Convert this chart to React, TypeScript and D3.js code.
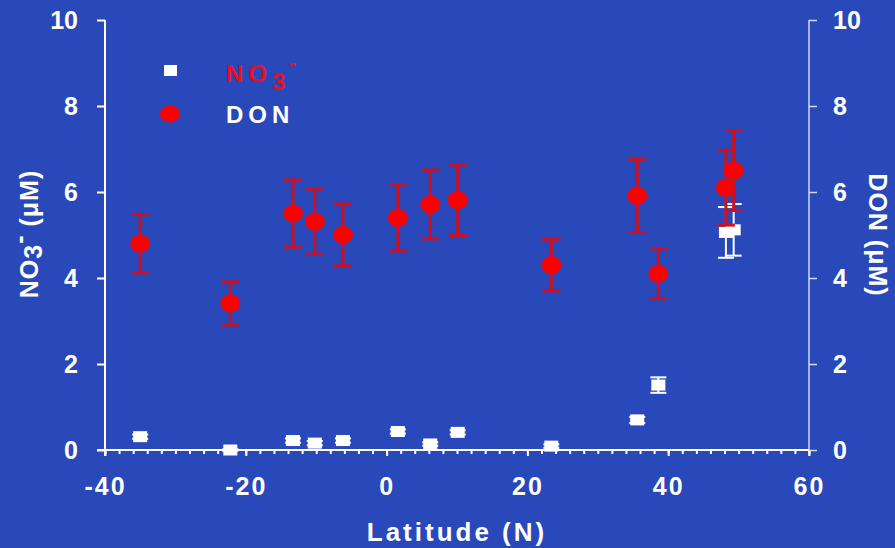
import React, { useEffect, useRef } from "react";
import * as d3 from "d3";

// station latitudes (N) and measured values
const latitudes = [-35, -22.2, -13.3, -10.2, -6.2, 1.6, 6.2, 10.1, 23.4, 35.6, 38.6, 48.2, 49.3];
const donValues = [4.8, 3.41, 5.5, 5.31, 5.0, 5.4, 5.71, 5.81, 4.3, 5.91, 4.1, 6.1, 6.5];
const donErrors = [0.68, 0.5, 0.78, 0.76, 0.72, 0.77, 0.8, 0.82, 0.6, 0.85, 0.58, 0.87, 0.93];
const no3Values = [0.31, 0.0, 0.22, 0.16, 0.22, 0.43, 0.14, 0.41, 0.09, 0.7, 1.51, 5.06, 5.12];
const no3Errors = [0.05, 0.02, 0.05, 0.05, 0.05, 0.05, 0.04, 0.05, 0.04, 0.07, 0.18, 0.59, 0.6];

const xTicks = [-40, -20, 0, 20, 40, 60];
const yTicks = [0, 2, 4, 6, 8, 10];

const W = 895;
const H = 548;
const BG = "#2948BA";
const FONT = "'Liberation Sans', Arial, sans-serif";

const App: React.FC = () => {
  const xMajorRef = useRef<SVGGElement>(null);
  const xMinorRef = useRef<SVGGElement>(null);
  const yLeftRef = useRef<SVGGElement>(null);
  const yRightRef = useRef<SVGGElement>(null);

  const x = d3.scaleLinear().domain([-40, 60]).range([105, 809]);
  const y = d3.scaleLinear().domain([0, 10]).range([450, 20]);

  useEffect(() => {
    // plain hyphen for negatives, like the original
    const fmt = (d: any) => String(d);
    const xMajor = d3.axisBottom(x).tickValues(xTicks).tickSize(6).tickPadding(21).tickSizeOuter(0).tickFormat(fmt);
    const xMinor = d3.axisBottom(x).tickValues(d3.range(-40, 61, 2)).tickSize(4).tickFormat(() => "").tickSizeOuter(0);
    const yLeft = d3.axisLeft(y).tickValues(yTicks).tickSize(8).tickPadding(19).tickSizeOuter(0).tickFormat(fmt);
    const yRight = d3.axisRight(y).tickValues(yTicks).tickSize(8).tickPadding(16).tickSizeOuter(0).tickFormat(fmt);

    const style = (g: any, col: string, w: number) => {
      g.select(".domain").remove();
      g.selectAll("line").attr("stroke", col).attr("stroke-width", w);
      g.selectAll("text")
        .attr("fill", "#ffffff")
        .attr("font-family", FONT)
        .attr("font-weight", "bold")
        .attr("font-size", 25);
    };

    const gxm = d3.select(xMinorRef.current!).attr("transform", `translate(0,${y(0)})`);
    gxm.call(xMinor as any);
    style(gxm, "#ffffff", 2);

    const gx = d3.select(xMajorRef.current!).attr("transform", `translate(0,${y(0)})`);
    gx.call(xMajor as any);
    style(gx, "#ffffff", 2);
    gx.selectAll("text").attr("letter-spacing", 2);

    const gl = d3.select(yLeftRef.current!).attr("transform", `translate(${x(-40)},0)`);
    gl.call(yLeft as any);
    style(gl, "#ffffff", 2);

    const gr = d3.select(yRightRef.current!).attr("transform", `translate(${x(60)},0)`);
    gr.call(yRight as any);
    style(gr, "#d4d8ea", 1.5);
  }, []);

  const idx = d3.range(latitudes.length);

  return (
    <svg width={W} height={H} style={{ position: "absolute", left: 0, top: 0 }} fontFamily={FONT}>
      <rect width={W} height={H} fill={BG} />

      {/* axis lines */}
      <line x1={x(-40) - 8} x2={x(60)} y1={y(0)} y2={y(0)} stroke="#ffffff" strokeWidth={2} />
      <line x1={x(-40)} x2={x(-40)} y1={y(10)} y2={y(0) + 6} stroke="#ffffff" strokeWidth={2} />
      <line x1={x(60)} x2={x(60)} y1={y(10)} y2={y(0) + 6} stroke="#d4d8ea" strokeWidth={1.5} />
      <g ref={xMinorRef} />
      <g ref={xMajorRef} />
      <g ref={yLeftRef} />
      <g ref={yRightRef} />

      {/* NO3 squares with error bars */}
      {idx.map(i => {
        const cx = x(latitudes[i]);
        const lo = y(no3Values[i] - no3Errors[i]);
        const hi = y(no3Values[i] + no3Errors[i]);
        return (
          <g key={"n" + i} stroke="#ffffff" strokeWidth={2}>
            <line x1={cx} x2={cx} y1={lo} y2={hi} />
            <line x1={cx - 8} x2={cx + 8} y1={lo} y2={lo} />
            <line x1={cx - 8} x2={cx + 8} y1={hi} y2={hi} />
            <rect x={cx - 7} y={y(no3Values[i]) - 5.5} width={14} height={11} fill="#ffffff" stroke="none" />
          </g>
        );
      })}

      {/* DON circles with error bars */}
      {idx.map(i => {
        const cx = x(latitudes[i]);
        const lo = y(donValues[i] - donErrors[i]);
        const hi = y(donValues[i] + donErrors[i]);
        return (
          <g key={"d" + i} stroke="#d01020" strokeWidth={3}>
            <line x1={cx} x2={cx} y1={lo} y2={hi} />
            <line x1={cx - 9} x2={cx + 9} y1={lo} y2={lo} />
            <line x1={cx - 9} x2={cx + 9} y1={hi} y2={hi} />
            <ellipse cx={cx} cy={y(donValues[i])} rx={10} ry={9} fill="#ff0000" stroke="none" />
          </g>
        );
      })}

      {/* legend */}
      <rect x={164} y={65} width={13} height={11} fill="#ffffff" />
      <text x={226} y={82} fill="#e8101c" fontWeight="bold" fontSize={24} letterSpacing={5}>
        NO<tspan dy={8}>3</tspan><tspan dy={-19} dx={-2}>-</tspan>
      </text>
      <ellipse cx={170} cy={114} rx={10} ry={8.5} fill="#ff0000" />
      <text x={226} y={123} fill="#ffffff" fontWeight="bold" fontSize={24} letterSpacing={5}>
        DON
      </text>

      {/* axis titles */}
      <text x={457} y={541} textAnchor="middle" fill="#ffffff" fontWeight="bold" fontSize={26} letterSpacing={3}>
        Latitude (N)
      </text>
      <text transform="translate(38,234) rotate(-90)" textAnchor="middle" fill="#ffffff" fontWeight="bold" fontSize={25} letterSpacing={1}>
        NO<tspan dy={4}>3</tspan><tspan dy={-14}>-</tspan><tspan dy={10}> (μM)</tspan>
      </text>
      <text transform="translate(869,235) rotate(90)" textAnchor="middle" fill="#ffffff" fontWeight="bold" fontSize={25} letterSpacing={1}>
        DON (μM)
      </text>
    </svg>
  );
};

export default App;
